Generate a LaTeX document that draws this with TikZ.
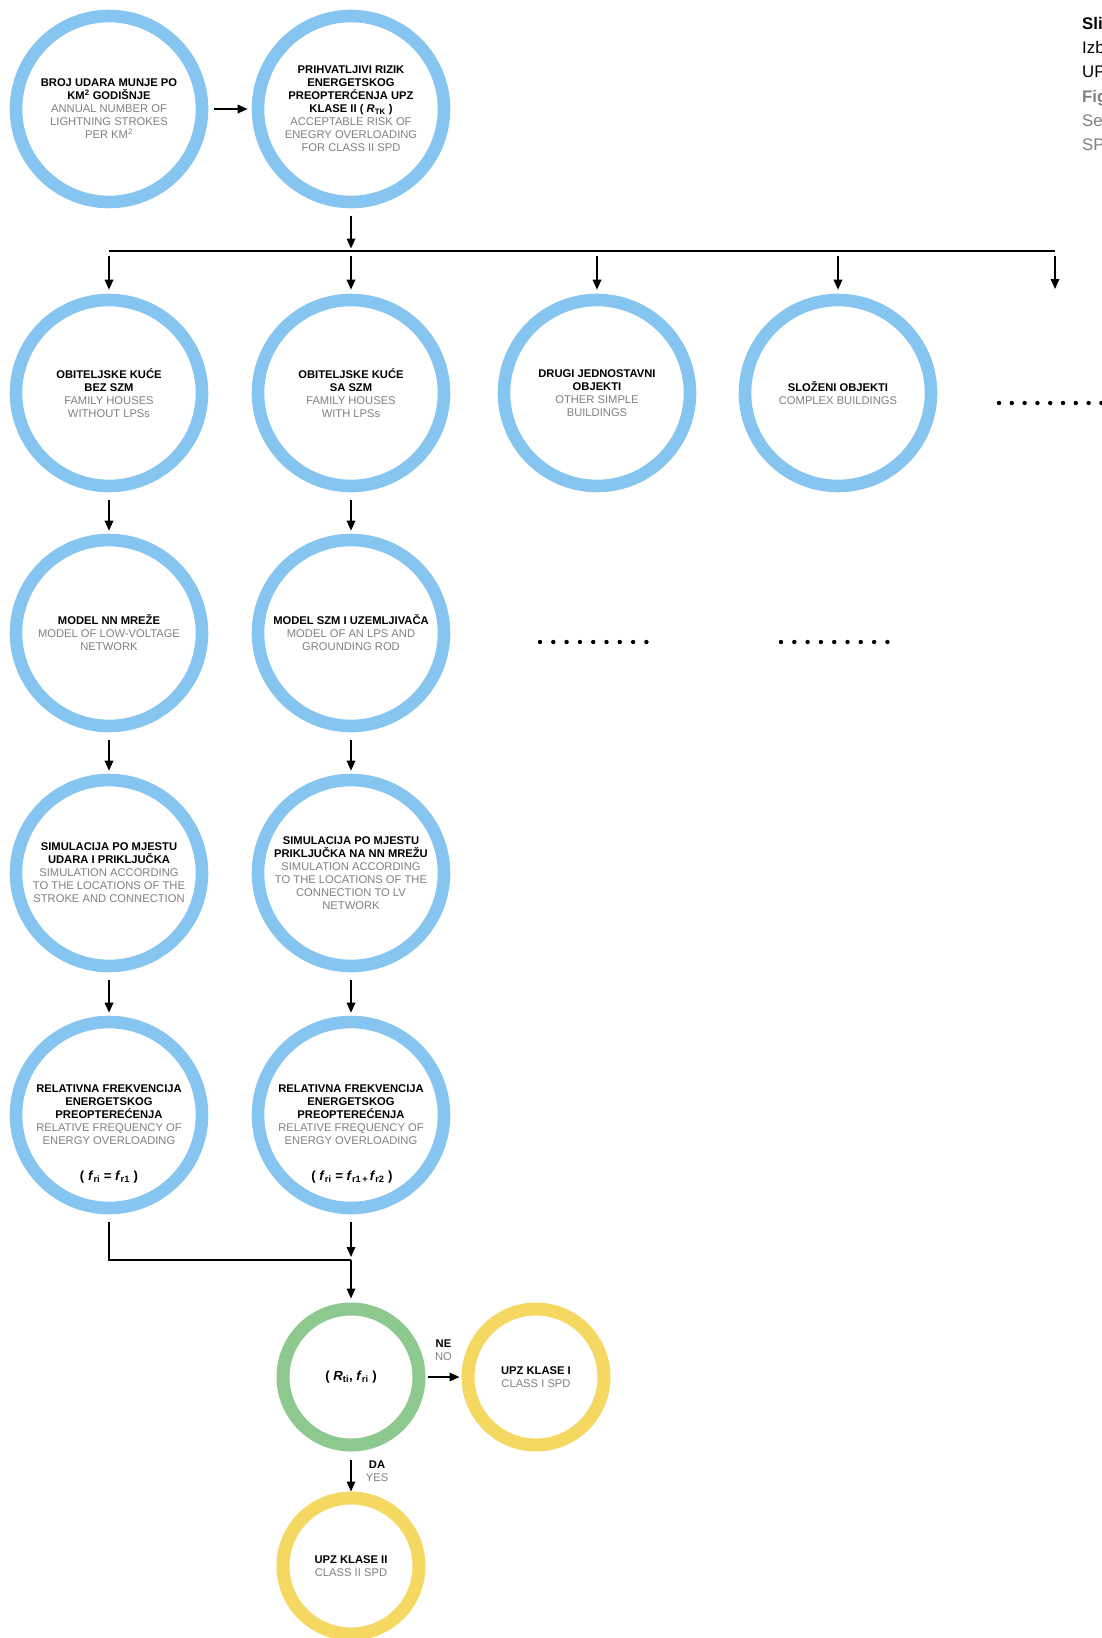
\documentclass[tikz,border=0pt]{standalone}
\usepackage{fontspec}
\setmainfont{Liberation Sans}
\usetikzlibrary{arrows.meta,positioning}

\definecolor{plava}{RGB}{134,197,240}
\definecolor{zelena}{RGB}{141,200,143}
\definecolor{zuta}{RGB}{245,216,98}
\definecolor{siva}{RGB}{128,128,128}

\newcommand{\hrv}[1]{\textbf{#1}}
\newcommand{\eng}[1]{\textcolor{siva}{#1}}

\tikzset{veliki/.style={circle, draw=plava, line width=12.6pt, minimum size=186pt, inner sep=0pt, align=center, font=\fontsize{11.2}{13}\selectfont}}
\tikzset{mali/.style={veliki, line width=13pt, minimum size=136pt}}
\tikzset{tekst/.style={inner sep=0pt, align=center, font=\fontsize{11.2}{13}\selectfont}}
\tikzset{formula/.style={font=\fontsize{13.2}{15}\selectfont}}
\tikzset{naslov/.style={inner sep=0pt, anchor=base west, font=\fontsize{16.8}{20}\selectfont}}
\tikzset{linija/.style={line width=1.7pt}}
\tikzset{strelica/.style={line width=1.7pt, -{Triangle[length=10pt,width=8.5pt]}, shorten <=8pt, shorten >=3pt}}

\begin{document}
\begin{tikzpicture}[x=1pt,y=-1pt]
\useasboundingbox (0,0) rectangle (1101,1638);
\node[veliki] (broj) at (109,109) {\hrv{BROJ UDARA MUNJE PO}\\\hrv{KM\textsuperscript{2} GODIŠNJE}\\\eng{ANNUAL NUMBER OF}\\\eng{LIGHTNING STROKES}\\\eng{PER KM\textsuperscript{2}}};
\node[veliki] (rizik) at (351,109) {\hrv{PRIHVATLJIVI RIZIK}\\\hrv{ENERGETSKOG}\\\hrv{PREOPTERĆENJA UPZ}\\\hrv{KLASE II ( \textit{R}\textsubscript{TK} )}\\\eng{ACCEPTABLE RISK OF}\\\eng{ENEGRY OVERLOADING}\\\eng{FOR CLASS II SPD}};
\node[veliki] (bez) at (109,393) {\hrv{OBITELJSKE KUĆE}\\\hrv{BEZ SZM}\\\eng{FAMILY HOUSES}\\\eng{WITHOUT LPSs}};
\node[veliki] (sa) at (351,393) {\hrv{OBITELJSKE KUĆE}\\\hrv{SA SZM}\\\eng{FAMILY HOUSES}\\\eng{WITH LPSs}};
\node[veliki] (drugi) at (597,393) {\hrv{DRUGI JEDNOSTAVNI}\\\hrv{OBJEKTI}\\\eng{OTHER SIMPLE}\\\eng{BUILDINGS}};
\node[veliki] (slozeni) at (838,393) {\hrv{SLOŽENI OBJEKTI}\\\eng{COMPLEX BUILDINGS}};
\node[veliki] (nn) at (109,633) {\hrv{MODEL NN MREŽE}\\\eng{MODEL OF LOW-VOLTAGE}\\\eng{NETWORK}};
\node[veliki] (szm) at (351,633) {\hrv{MODEL SZM I UZEMLJIVAČA}\\\eng{MODEL OF AN LPS AND}\\\eng{GROUNDING ROD}};
\node[veliki] (simA) at (109,873) {\hrv{SIMULACIJA PO MJESTU}\\\hrv{UDARA I PRIKLJUČKA}\\\eng{SIMULATION ACCORDING}\\\eng{TO THE LOCATIONS OF THE}\\\eng{STROKE AND CONNECTION}};
\node[veliki] (simB) at (351,873) {\hrv{SIMULACIJA PO MJESTU}\\\hrv{PRIKLJUČKA NA NN MREŽU}\\\eng{SIMULATION ACCORDING}\\\eng{TO THE LOCATIONS OF THE}\\\eng{CONNECTION TO LV}\\\eng{NETWORK}};
\node[veliki] (relA) at (109,1115) {\hrv{RELATIVNA FREKVENCIJA}\\\hrv{ENERGETSKOG}\\\hrv{PREOPTEREĆENJA}\\\eng{RELATIVE FREQUENCY OF}\\\eng{ENERGY OVERLOADING}};
\node[veliki] (relB) at (351,1115) {\hrv{RELATIVNA FREKVENCIJA}\\\hrv{ENERGETSKOG}\\\hrv{PREOPTEREĆENJA}\\\eng{RELATIVE FREQUENCY OF}\\\eng{ENERGY OVERLOADING}};
\node[tekst, formula] (fA) at (109,1177) {\hrv{( \textit{f}\textsubscript{ri} = \textit{f}\textsubscript{r1} )}};
\node[tekst, formula] (fB) at (352,1177) {\hrv{( \textit{f}\textsubscript{ri} = \textit{f}\textsubscript{r1\,+\,}\textit{f}\textsubscript{r2} )}};
\node[mali, draw=zelena, formula] (odluka) at (351,1377) {\hrv{( \textit{R}\textsubscript{ti}, \textit{f}\textsubscript{ri} )}};
\node[mali, draw=zuta] (klasaI) at (536,1377) {\hrv{UPZ KLASE I}\\\eng{CLASS I SPD}};
\node[mali, draw=zuta] (klasaII) at (351,1566) {\hrv{UPZ KLASE II}\\\eng{CLASS II SPD}};
\coordinate (bus) at (351,251);
\coordinate (ostalo) at (1055,293);
\coordinate (spoj) at (351,1260);
\draw[strelica, shorten <=6pt, shorten >=4pt] (broj) -- (rizik);
\draw[strelica, shorten >=2.5pt] (rizik) -- (bus);
\draw[linija] (bez |- bus) -- (ostalo |- bus);
\draw[strelica, shorten <=5pt, shorten >=4pt] (bez |- bus) -- (bez);
\draw[strelica, shorten <=5pt, shorten >=4pt] (sa |- bus) -- (sa);
\draw[strelica, shorten <=5pt, shorten >=4pt] (drugi |- bus) -- (drugi);
\draw[strelica, shorten <=5pt, shorten >=4pt] (slozeni |- bus) -- (slozeni);
\draw[strelica, shorten <=5pt, shorten >=4pt] (ostalo |- bus) -- (ostalo);
\draw[strelica] (bez) -- (nn);
\draw[strelica] (sa) -- (szm);
\draw[strelica] (nn) -- (simA);
\draw[strelica] (szm) -- (simB);
\draw[strelica] (simA) -- (relA);
\draw[strelica] (simB) -- (relB);
\draw[linija] ([yshift=-8pt]relA.south) |- (spoj);
\draw[strelica] (relB) -- (spoj);
\draw[strelica, shorten <=0pt, shorten >=4pt] (spoj) -- (odluka);
\draw[strelica, shorten <=2pt, shorten >=2pt] (odluka) -- node[tekst, above=16pt] (ne) {\hrv{NE}\\\eng{NO}} (klasaI);
\draw[strelica, shorten <=8.5pt, shorten >=0pt] (odluka) -- node[tekst, right=14pt] (da) {\hrv{DA}\\\eng{YES}} (klasaII);
% tockice
\foreach \i in {0,...,8} \fill (999+12.8*\i,403) circle[radius=2.2pt];
\foreach \i in {0,...,8} \fill (540+13.3*\i,642) circle[radius=2.2pt];
\foreach \i in {0,...,8} \fill (781+13.3*\i,642) circle[radius=2.2pt];
% naslov
\node[naslov] (sli) at (1082,29) {\textbf{Sli}};
\node[naslov] (izb) at (1082,53) {Izb};
\node[naslov] (up) at (1082,77) {UP};
\node[naslov, siva] (fig) at (1082,102) {\textbf{Fig}};
\node[naslov, siva] (se) at (1082,126) {Se};
\node[naslov, siva] (sp) at (1082,150) {SP};
\end{tikzpicture}
\end{document}
